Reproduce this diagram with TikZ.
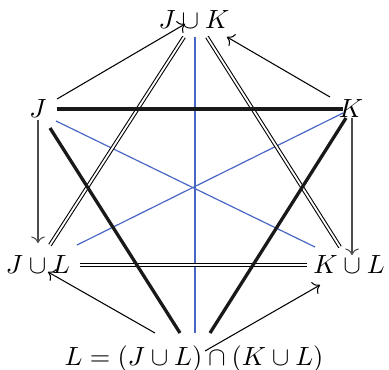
\documentclass[tikz,border=0pt]{standalone}
\usetikzlibrary{arrows.meta}
\definecolor{lineblue}{RGB}{72,102,196}
\begin{document}
\begin{tikzpicture}[x=0.38pt,y=-0.38pt,
  lbl/.style={anchor=base,inner sep=0pt},
  arr/.style={draw=black,line width=0.4pt,->},
  varr/.style={draw=black!70,line width=0.4pt,->},
  thickln/.style={draw=black!90,line width=1.25pt},
  dbl/.style={draw=black,line width=0.4pt,double,double distance=0.7pt},
  blueln/.style={draw=lineblue,line width=0.45pt}]
\useasboundingbox (0,0) rectangle (389,369);
\node[lbl] (JK) at (194,28) {$J\cup K$};
\node[lbl] (J) at (38,117) {$J$};
\node[lbl] (K) at (351,117) {$K$};
\node[lbl] (JL) at (38,273) {$J\cup L$};
\node[lbl] (KL) at (349,273) {$K\cup L$};
\node[lbl] (L) at (194,365) {$L=(J\cup L)\cap(K\cup L)$};
% blue lines
\draw[blueln] ([shift={(1,9)}]JK.base) -- ([shift={(1,-32)}]L.base);
\draw[blueln] ([shift={(18,4)}]J.base) -- ([shift={(-34,-26)}]KL.base);
\draw[blueln] ([shift={(-8,-4)}]K.base) -- ([shift={(39,-28)}]JL.base);
% double lines
\draw[dbl] ([shift={(-10,9)}]JK.base) -- ([shift={(12,-28)}]JL.base);
\draw[dbl] ([shift={(13,9)}]JK.base) -- ([shift={(-9,-26)}]KL.base);
\draw[dbl] ([shift={(42,-8)}]JL.base) -- ([shift={(-42,-8)}]KL.base);
% thick lines
\draw[thickln] ([shift={(19,-8)}]J.base) -- ([shift={(-8,-8)}]K.base);
\draw[thickln] ([shift={(12,11)}]J.base) -- ([shift={(-14,-32)}]L.base);
\draw[thickln] ([shift={(-5,1)}]K.base) -- ([shift={(16,-32)}]L.base);
% arrows
\draw[arr] ([shift={(19,-18)}]J.base) -- ([shift={(-9,-4)}]JK.base);
\draw[arr] ([shift={(-21,-20)}]K.base) -- ([shift={(33,9)}]JK.base);
\draw[varr] ([shift={(0,3)}]J.base) -- ([shift={(0,-30)}]JL.base);
\draw[varr] ([shift={(1,1)}]K.base) -- ([shift={(3,-18)}]KL.base);
\draw[arr] ([shift={(-39,-32)}]L.base) -- ([shift={(10,-1)}]JL.base);
\draw[arr] ([shift={(11,-14)}]L.base) -- ([shift={(-29,12)}]KL.base);
\end{tikzpicture}
\end{document}
